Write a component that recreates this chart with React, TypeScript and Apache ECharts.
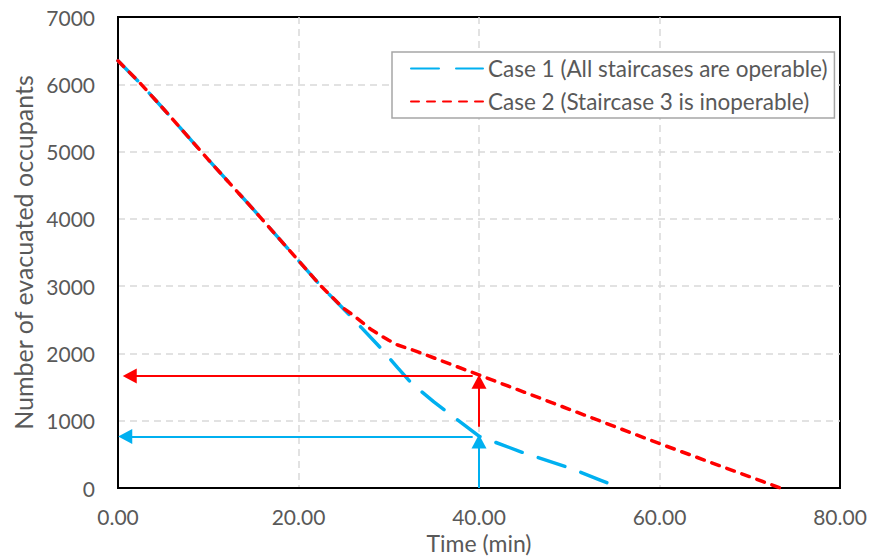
import React, { useEffect, useRef } from "react";
import * as echarts from "echarts";

// Case 1: all staircases operable
const case1Time = [0, 2.5, 5, 10, 15, 20, 22.5, 25, 27, 29, 31, 32.5, 35, 37.5, 40, 45, 50, 53.5, 55.4];
const case1Occupants = [6350, 6010, 5640, 4880, 4140, 3380, 3000, 2660, 2380, 2095, 1785, 1560, 1280, 1025, 770, 520, 300, 115, 15];

// Case 2: staircase 3 inoperable
const case2Time = [0, 2.5, 5, 10, 15, 20, 22.5, 25, 26, 28, 29, 30, 31, 33, 40, 50, 60, 73.4];
const case2Occupants = [6350, 6010, 5640, 4880, 4140, 3380, 3000, 2670, 2575, 2360, 2275, 2195, 2125, 2035, 1680, 1170, 660, 0];

// Annotation arrows [fromTime, fromValue, toTime, toValue]
const blueArrows = [
  [40, 0, 40, 690],
  [39.3, 765, 0.8, 765],
];
const redArrows = [
  [40, 910, 40, 1580],
  [39.3, 1665, 1.3, 1665],
];

const seriesNames = ["Case 1 (All staircases are operable)", "Case 2 (Staircase 3 is inoperable)"];
const xTicks = { min: 0, max: 80, interval: 20 };
const yTicks = { min: 0, max: 7000, interval: 1000 };

const FONT = "Lato";
const TEXT = "#595959";
const BLUE = "#00B0F0";
const RED = "#FF0000";

function toPairs(xs: number[], ys: number[]) {
  return xs.map((x, i) => [x, ys[i]]);
}

function arrowData(arr: number[][]) {
  return arr.map((a) => [{ coord: [a[0], a[1]] }, { coord: [a[2], a[3]] }]);
}

const splitLine = {
  show: true,
  showMinLine: false,
  showMaxLine: false,
  lineStyle: { color: "#d9d9d9", width: 1.5, type: [7, 5] },
};

export default function App() {
  const ref = useRef<HTMLDivElement>(null);
  useEffect(() => {
    document.body.style.margin = "0";
    if (!ref.current) return;
    const chart = echarts.init(ref.current, undefined, { renderer: "svg" });
    const option: any = {
      animation: false,
      backgroundColor: "#ffffff",
      grid: {
        left: 118,
        right: 32,
        top: 17,
        bottom: 68,
        show: true,
        borderColor: "#000000",
        borderWidth: 2,
        backgroundColor: "transparent",
        outerBoundsMode: "none",
      },
      legend: {
        orient: "vertical",
        left: 392,
        top: 52,
        padding: [5, 7, 5, 18],
        itemWidth: 72,
        itemHeight: 14,
        itemGap: 10,
        backgroundColor: "#ffffff",
        borderColor: "#a6a6a6",
        borderWidth: 1.5,
        borderRadius: 0,
        itemStyle: { opacity: 0 },
        data: seriesNames,
        textStyle: { color: TEXT, fontSize: 22.5, fontFamily: FONT },
      },
      xAxis: {
        type: "value",
        min: xTicks.min,
        max: xTicks.max,
        interval: xTicks.interval,
        name: "Time (min)",
        nameLocation: "middle",
        nameGap: 27,
        nameTextStyle: { color: TEXT, fontSize: 23, lineHeight: 23, fontFamily: FONT, verticalAlign: "top" },
        axisLine: { show: true, lineStyle: { color: "#000000", width: 2 } },
        axisTick: { show: false },
        axisLabel: {
          color: TEXT,
          fontSize: 21,
          fontFamily: FONT,
          margin: 18,
          formatter: (v: number) => v.toFixed(2),
        },
        splitLine,
      },
      yAxis: {
        type: "value",
        min: yTicks.min,
        max: yTicks.max,
        interval: yTicks.interval,
        name: "Number of evacuated occupants",
        nameLocation: "middle",
        nameRotate: 90,
        nameGap: 81,
        nameTextStyle: { color: TEXT, fontSize: 25, fontFamily: FONT },
        axisLine: { show: true, lineStyle: { color: "#000000", width: 2 } },
        axisTick: { show: false },
        axisLabel: {
          color: TEXT,
          fontSize: 21,
          fontFamily: FONT,
          margin: 23,
          formatter: (v: number) => String(v),
        },
        splitLine,
      },
      series: [
        {
          name: seriesNames[0],
          type: "line",
          data: toPairs(case1Time, case1Occupants),
          symbol: "none",
          color: BLUE,
          lineStyle: { color: BLUE, width: 3.5, type: [28, 17], cap: "round" },
          z: 2,
          markLine: {
            silent: true,
            symbol: ["none", "triangle"],
            symbolSize: [15, 14],
            label: { show: false },
            lineStyle: { color: BLUE, width: 2, type: "solid" },
            emphasis: { disabled: true },
            data: arrowData(blueArrows),
          },
        },
        {
          name: seriesNames[1],
          type: "line",
          data: toPairs(case2Time, case2Occupants),
          symbol: "none",
          color: RED,
          lineStyle: { color: RED, width: 3.5, type: [8, 8], cap: "round" },
          z: 3,
          markLine: {
            silent: true,
            symbol: ["none", "triangle"],
            symbolSize: [15, 14],
            label: { show: false },
            lineStyle: { color: RED, width: 2, type: "solid" },
            emphasis: { disabled: true },
            data: arrowData(redArrows),
          },
        },
      ],
    };
    chart.setOption(option);
    return () => chart.dispose();
  }, []);
  return <div ref={ref} style={{ width: 872, height: 556 }} />;
}
